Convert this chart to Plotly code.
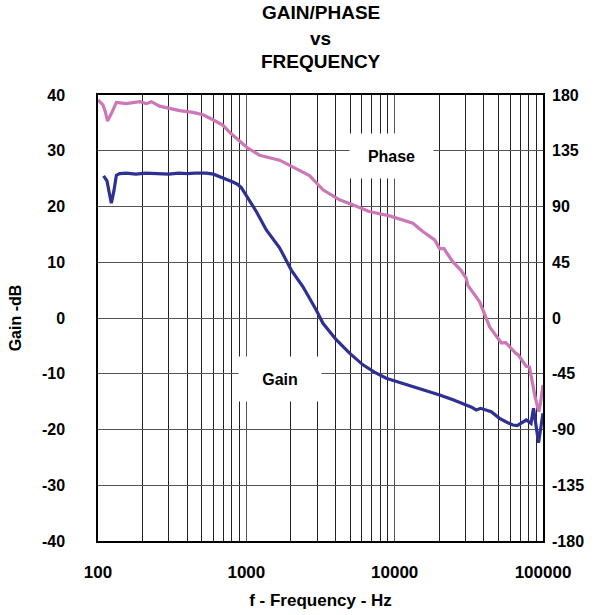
import plotly.graph_objects as go

# ---- data ----
gain_freq = [109, 115, 119, 123, 128, 133, 140, 155, 180, 210, 250, 300, 350, 400, 450,
             537, 600, 660, 730, 812, 870, 925, 1026, 1167, 1364, 1675, 2010, 2410, 2965,
             3285, 4035, 4966, 6106, 7300, 8770, 11000, 13260, 16000, 20100, 25000, 30370,
             33000, 35450, 38000, 44770, 50930, 57000, 62650, 67000, 72000, 77100, 83000,
             86300, 90000, 93300, 96500, 100000]
gain_db = [25.5, 24.6, 22.5, 20.6, 22.8, 25.6, 25.9, 26.0, 25.8, 26.0, 25.9, 25.8, 26.0, 25.9, 26.0,
           26.0, 25.8, 25.3, 24.9, 24.4, 24.0, 23.4, 21.5, 19.1, 15.8, 12.6, 8.6, 5.6, 1.4,
           -0.95, -3.9, -6.3, -8.4, -9.7, -10.8, -11.6, -12.3, -13.0, -13.8, -14.7, -15.6,
           -16.0, -16.5, -16.2, -16.8, -18.0, -18.7, -19.2, -19.3, -18.8, -18.3, -18.9,
           -16.2, -19.5, -22.4, -19.8, -17.1]

phase_freq = [100, 108, 112, 116, 123, 133, 155, 191, 212, 229, 260, 304, 355, 437, 510,
              595, 694, 770, 855, 1000, 1228, 1510, 1675, 2295, 2665, 3285, 4245, 5210, 6730,
              9240, 11370, 13260, 15480, 18600, 20100, 21500, 24600, 27900, 30370, 31100,
              37400, 43700, 52300, 56000, 65400, 68000, 77100, 81000, 88400, 93700, 96500,
              100000]
phase_deg = [176, 172, 166.5, 159, 165, 174, 173, 174.6, 173, 174.6, 171, 169, 167.4, 166, 164,
             160, 155.7, 150, 145, 138, 131.4, 128.7, 127.4, 119, 115, 103.5, 95.4, 91.4, 86,
             82.4, 79.2, 76.5, 69.8, 63, 56, 56, 45.5, 38.7, 32, 26.5,
             13, -7.2, -20, -19.8, -28.4, -29.7, -39, -39.6, -63.5, -75.6, -67.5,
             -54]

x_tick_vals = [100, 1000, 10000, 100000]
x_tick_text = ["100", "1000", "10000", "100000"]
x_minor_vals = [m * d for d in (100, 1000, 10000) for m in range(2, 10)]
gain_ticks = [40, 30, 20, 10, 0, -10, -20, -30, -40]
gain_tick_text = ["40", "30", "20", "10", "0", "-10", "-20", "-30", "-40"]
phase_ticks = [180, 135, 90, 45, 0, -45, -90, -135, -180]
phase_tick_text = ["180", "135", "90", "45", "0", "-45", "-90", "-135", "-180"]
title_lines = ["GAIN/PHASE", "vs", "FREQUENCY"]

FONT = "Liberation Sans, Arial, sans-serif"
GRID = "#555555"

fig = go.Figure()
fig.add_trace(go.Scatter(x=gain_freq, y=gain_db, mode="lines", name="Gain",
                         line=dict(color="#2E3192", width=3.2), xaxis="x", yaxis="y"))
fig.add_trace(go.Scatter(x=phase_freq, y=phase_deg, mode="lines", name="Phase",
                         line=dict(color="#CC77B6", width=3.2), xaxis="x", yaxis="y2"))

title_y = [1.1840, 1.1270, 1.0750]
annotations = [
    dict(text=t, x=0.5, y=yy, xref="paper", yref="paper", showarrow=False,
         xanchor="center", yanchor="middle",
         font=dict(size=19, family=FONT, color="black", weight="bold"))
    for t, yy in zip(title_lines, title_y)
]
annotations += [
    dict(text="Phase", x=3.979, y=29.06, xref="x", yref="y", showarrow=False,
         bgcolor="white", width=81, height=42,
         font=dict(size=16, family=FONT, color="black", weight="bold")),
    dict(text="Gain", x=3.2244, y=-10.94, xref="x", yref="y", showarrow=False,
         bgcolor="white", width=80, height=42,
         font=dict(size=16, family=FONT, color="black", weight="bold")),
]

fig.update_layout(
    width=601, height=615,
    margin=dict(l=98, r=57.5, t=95, b=74, autoexpand=False),
    paper_bgcolor="white", plot_bgcolor="white",
    showlegend=False,
    font=dict(family=FONT, size=16, color="black", weight="bold"),
    xaxis=dict(type="log", range=[2, 5], tickmode="array", tickvals=x_tick_vals,
               ticktext=x_tick_text, showgrid=True, gridcolor=GRID, gridwidth=1,
               minor=dict(tickmode="array", tickvals=x_minor_vals, showgrid=True,
                          gridcolor="#222222", gridwidth=1),
               showline=True, linecolor="black", linewidth=1.5, mirror=True,
               ticks="", ticklabelstandoff=15, automargin=False,
               tickfont=dict(size=17, family=FONT, weight="bold"),
               title=dict(text="f - Frequency - Hz", standoff=13,
                          font=dict(size=17, family=FONT, weight="bold"))),
    yaxis=dict(range=[-40, 40], tickmode="array", tickvals=gain_ticks,
               ticktext=gain_tick_text, automargin=False,
               showgrid=True, gridcolor=GRID, gridwidth=1, zeroline=False,
               showline=True, linecolor="black", linewidth=1.5, mirror=True,
               ticks="", ticklabelstandoff=28,
               tickfont=dict(size=16, family=FONT, weight="bold"),
               title=dict(text="Gain -dB", standoff=16,
                          font=dict(size=16, family=FONT, weight="bold"))),
    yaxis2=dict(range=[-180, 180], tickmode="array", tickvals=phase_ticks,
                ticktext=phase_tick_text, automargin=False,
                overlaying="y", side="right", showgrid=False, zeroline=False,
                ticks="", ticklabelstandoff=8,
                tickfont=dict(size=16, family=FONT, weight="bold")),
    annotations=annotations,
)

fig.write_html("out.html")
